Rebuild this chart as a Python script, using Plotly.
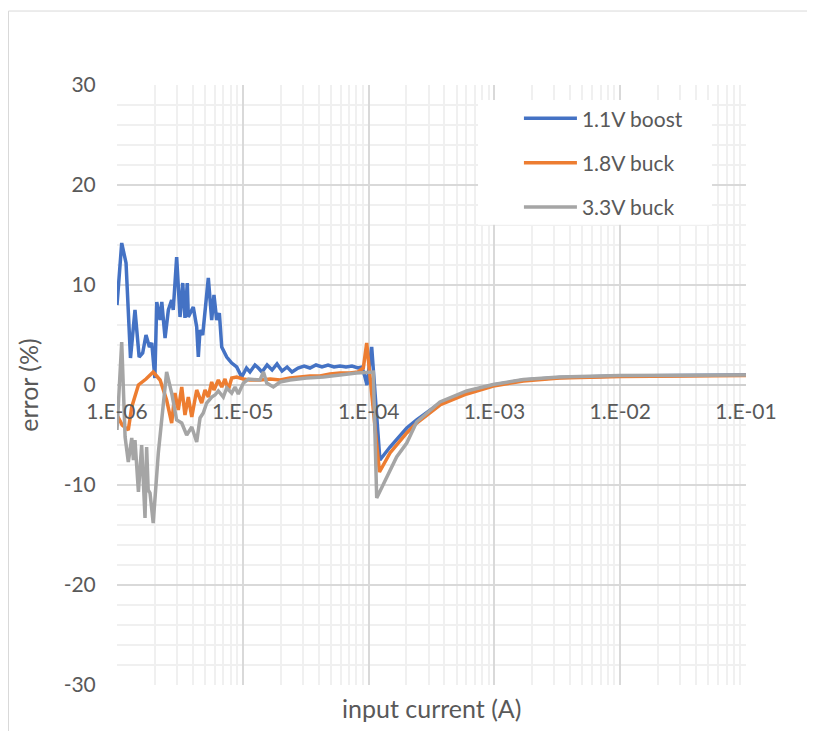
import plotly.graph_objects as go

# input current (A) and error (%)
boost_11_i = [1.00e-6, 1.09e-6, 1.18e-6, 1.28e-6, 1.39e-6, 1.50e-6, 1.60e-6, 1.70e-6, 1.81e-6, 1.89e-6,
              2.00e-6, 2.07e-6, 2.20e-6, 2.27e-6, 2.41e-6, 2.56e-6, 2.72e-6, 2.80e-6, 2.98e-6, 3.07e-6,
              3.17e-6, 3.33e-6, 3.47e-6, 3.62e-6, 3.69e-6, 4.04e-6, 4.30e-6, 4.43e-6, 4.57e-6, 4.80e-6,
              5.01e-6, 5.32e-6, 5.66e-6, 5.90e-6, 6.20e-6, 6.51e-6, 6.80e-6, 7.00e-6, 7.45e-6, 8.16e-6,
              8.94e-6, 9.80e-6, 1.07e-5, 1.14e-5, 1.25e-5, 1.33e-5, 1.42e-5, 1.56e-5, 1.71e-5, 1.87e-5,
              2.05e-5, 2.25e-5, 2.46e-5, 2.75e-5, 3.07e-5, 3.42e-5, 3.82e-5, 4.26e-5, 4.76e-5, 5.31e-5,
              5.93e-5, 6.61e-5, 7.38e-5, 8.24e-5, 8.86e-5, 9.36e-5, 9.71e-5, 1.058e-4, 1.23e-4, 1.48e-4,
              2.01e-4, 2.41e-4, 3.69e-4, 6.02e-4, 9.80e-4, 1.70e-3, 3.30e-3, 1.00e-2, 3.00e-2, 1.00e-1]
boost_11_err = [8.0, 14.2, 12.2, 2.7, 7.5, 2.8, 3.2, 5.0, 3.8, 4.2,
                0.7, 8.3, 6.5, 8.3, 4.7, 7.5, 8.5, 7.5, 12.8, 9.2,
                6.8, 10.2, 6.7, 10.2, 6.8, 7.8, 5.8, 2.8, 5.5, 5.0,
                7.5, 10.7, 6.5, 9.0, 6.5, 7.2, 3.8, 3.5, 2.8, 2.2,
                1.8, 0.8, 1.7, 1.3, 2.0, 1.7, 1.3, 2.0, 1.5, 2.1,
                1.4, 1.8, 1.3, 1.7, 1.9, 1.7, 2.0, 1.8, 2.0, 1.8,
                1.9, 1.8, 1.9, 1.7, 1.8, 0.8, 0.0, 3.8, -7.5, -6.2,
                -4.3, -3.5, -1.8, -0.7, 0.0, 0.5, 0.75, 0.9, 0.95, 1.0]

buck_18_i = [1.00e-6, 1.10e-6, 1.23e-6, 1.31e-6, 1.48e-6, 1.70e-6, 1.94e-6, 2.20e-6, 2.48e-6, 2.72e-6,
             2.89e-6, 3.07e-6, 3.27e-6, 3.47e-6, 3.69e-6, 3.93e-6, 4.30e-6, 4.71e-6, 5.01e-6, 5.32e-6,
             5.66e-6, 5.90e-6, 6.39e-6, 6.80e-6, 7.22e-6, 7.67e-6, 8.16e-6, 8.94e-6, 1.01e-5, 1.14e-5,
             1.37e-5, 1.65e-5, 1.98e-5, 2.37e-5, 2.85e-5, 3.42e-5, 4.11e-5, 4.93e-5, 5.93e-5, 7.11e-5,
             8.24e-5, 9.08e-5, 9.66e-5, 1.22e-4, 1.48e-4, 2.01e-4, 2.41e-4, 3.69e-4, 6.02e-4, 9.80e-4,
             1.70e-3, 3.30e-3, 1.00e-2, 3.00e-2, 1.00e-1]
buck_18_err = [-3.0, -4.0, -4.5, -2.2, 0.0, 0.6, 1.3, 0.5, -1.5, -3.8,
               -0.8, -2.5, -0.2, -3.0, -1.2, -3.2, -0.5, -1.8, -0.5, -1.2,
               0.3, -0.5, 0.5, -0.2, 0.6, -0.5, 0.7, 0.8, 0.6, 0.5,
               0.5, 0.6, 0.5, 0.7, 0.8, 0.9, 0.9, 1.1, 1.2, 1.2,
               1.3, 1.7, 4.2, -8.7, -6.8, -4.8, -3.8, -2.0, -0.9, -0.1,
               0.4, 0.7, 0.85, 0.92, 0.95]

buck_33_i = [1.00e-6, 1.09e-6, 1.16e-6, 1.23e-6, 1.31e-6, 1.35e-6, 1.39e-6, 1.48e-6, 1.57e-6, 1.67e-6,
             1.72e-6, 1.77e-6, 1.83e-6, 1.94e-6, 2.13e-6, 2.27e-6, 2.48e-6, 2.72e-6, 2.98e-6, 3.27e-6,
             3.58e-6, 3.93e-6, 4.30e-6, 4.57e-6, 4.85e-6, 5.16e-6, 5.66e-6, 6.01e-6, 6.39e-6, 7.00e-6,
             7.45e-6, 8.16e-6, 8.67e-6, 9.21e-6, 1.01e-5, 1.11e-5, 1.25e-5, 1.37e-5, 1.46e-5, 1.55e-5,
             1.75e-5, 1.98e-5, 2.37e-5, 3.22e-5, 4.37e-5, 5.93e-5, 8.04e-5, 1.09e-4, 1.16e-4, 1.67e-4,
             2.01e-4, 2.41e-4, 3.69e-4, 6.02e-4, 9.80e-4, 1.70e-3, 3.30e-3, 1.00e-2, 3.00e-2, 1.00e-1]
buck_33_err = [-4.5, 4.3, -5.2, -7.7, -5.3, -7.5, -5.5, -10.7, -6.0, -13.3,
               -6.2, -10.5, -10.8, -13.8, -6.8, -3.2, 1.3, -0.8, -3.5, -3.8,
               -5.0, -4.2, -5.7, -3.3, -2.8, -1.8, -1.2, -1.0, -0.6, -1.2,
               -0.3, -0.8, -0.2, -0.9, 0.2, 0.6, 0.5, 0.5, 1.3, 0.2,
               -0.2, 0.3, 0.5, 0.7, 0.8, 1.0, 1.2, 1.3, -11.3, -7.2,
               -5.8, -3.7, -1.7, -0.6, 0.05, 0.55, 0.8, 0.95, 1.0, 1.0]

series = [("1.1V boost", boost_11_i, boost_11_err, "#4472C4"),
          ("1.8V buck", buck_18_i, buck_18_err, "#ED7D31"),
          ("3.3V buck", buck_33_i, buck_33_err, "#A5A5A5")]

decade_ticks = [1e-6, 1e-5, 1e-4, 1e-3, 1e-2, 1e-1]
decade_labels = ["1.E-06", "1.E-05", "1.E-04", "1.E-03", "1.E-02", "1.E-01"]
err_ticks = [-30, -20, -10, 0, 10, 20, 30]
err_labels = ["-30", "-20", "-10", "0", "10", "20", "30"]

tick_font = dict(family="Lato, Noto Sans, sans-serif", size=21, color="#595959")
title_font = dict(family="Lato, Noto Sans, sans-serif", size=25, color="#595959")

fig = go.Figure()
for name, cur, err, color in series:
    fig.add_trace(go.Scatter(x=cur, y=err, mode="lines", name=name, legendgroup=name,
                             line=dict(color=color, width=3.5)))

fig.update_layout(
    width=807, height=723,
    margin=dict(l=109, r=69, t=77, b=46),
    paper_bgcolor="white", plot_bgcolor="white",
    font=tick_font,
    showlegend=True,
    legend=dict(x=0.639, y=0.978, xanchor="left", yanchor="top",
                bgcolor="rgba(0,0,0,0)", font=tick_font, tracegroupgap=14, itemwidth=53),
    shapes=[
        # white box behind the legend
        dict(type="rect", xref="paper", yref="paper", x0=0.574, x1=0.946, y0=0.767, y1=0.975,
             fillcolor="white", line=dict(width=0), layer="above"),
        # chart frame
        dict(type="rect", xref="paper", yref="paper", x0=-0.1725, x1=1.12, y0=-0.09, y1=1.1233,
             line=dict(color="#d9d9d9", width=1), fillcolor="rgba(0,0,0,0)", layer="below"),
    ],
    annotations=[dict(text="input current (A)", xref="paper", yref="paper", x=0.5, y=-0.038,
                      xanchor="center", yanchor="middle", showarrow=False, font=title_font)],
)

fig.update_xaxes(type="log", range=[-6, -1], anchor="free", position=0.5,
                 tickvals=decade_ticks, ticktext=decade_labels, showline=False,
                 showgrid=True, gridcolor="#d9d9d9", gridwidth=1.5, zeroline=False,
                 ticks="outside", ticklen=8, tickcolor="rgba(0,0,0,0)", tickfont=tick_font,
                 minor=dict(showgrid=True, gridcolor="#f0f0f0", gridwidth=1.5, dtick="D1"))
fig.update_yaxes(range=[-30, 30], tickvals=err_ticks, ticktext=err_labels,
                 showgrid=True, gridcolor="#d9d9d9", gridwidth=1.5,
                 zeroline=True, zerolinecolor="#d0d0d0", zerolinewidth=1.5,
                 ticks="outside", ticklen=16, tickcolor="rgba(0,0,0,0)", tickfont=tick_font,
                 title=dict(text="error (%)", font=title_font, standoff=17),
                 minor=dict(showgrid=True, gridcolor="#f0f0f0", gridwidth=1.5, dtick=2))

fig.write_html("out.html")
